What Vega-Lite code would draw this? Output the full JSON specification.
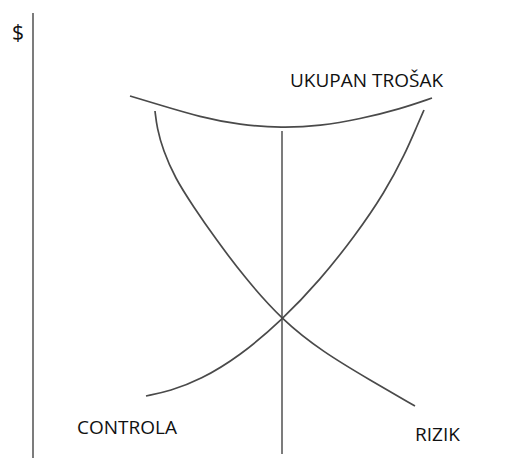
{
  "$schema": "https://vega.github.io/schema/vega-lite/v6.json",
  "width": 527,
  "height": 458,
  "autosize": {"type": "none"},
  "padding": 0,
  "background": "white",
  "config": {"view": {"stroke": null}},
  "datasets": {
    "curves": [
      {"series": "UKUPAN TROŠAK", "i": 0, "x": 130, "y": 362},
      {"series": "UKUPAN TROŠAK", "i": 1, "x": 160, "y": 353},
      {"series": "UKUPAN TROŠAK", "i": 2, "x": 200, "y": 341},
      {"series": "UKUPAN TROŠAK", "i": 3, "x": 240, "y": 333},
      {"series": "UKUPAN TROŠAK", "i": 4, "x": 282, "y": 330},
      {"series": "UKUPAN TROŠAK", "i": 5, "x": 320, "y": 332},
      {"series": "UKUPAN TROŠAK", "i": 6, "x": 360, "y": 339},
      {"series": "UKUPAN TROŠAK", "i": 7, "x": 400, "y": 349},
      {"series": "UKUPAN TROŠAK", "i": 8, "x": 432, "y": 360},
      {"series": "RIZIK", "i": 0, "x": 155, "y": 347},
      {"series": "RIZIK", "i": 1, "x": 157, "y": 330},
      {"series": "RIZIK", "i": 2, "x": 163, "y": 308},
      {"series": "RIZIK", "i": 3, "x": 175, "y": 280},
      {"series": "RIZIK", "i": 4, "x": 193, "y": 252},
      {"series": "RIZIK", "i": 5, "x": 215, "y": 220},
      {"series": "RIZIK", "i": 6, "x": 245, "y": 180},
      {"series": "RIZIK", "i": 7, "x": 282, "y": 138},
      {"series": "RIZIK", "i": 8, "x": 323, "y": 106},
      {"series": "RIZIK", "i": 9, "x": 370, "y": 78},
      {"series": "RIZIK", "i": 10, "x": 415, "y": 52},
      {"series": "CONTROLA", "i": 0, "x": 146, "y": 62},
      {"series": "CONTROLA", "i": 1, "x": 170, "y": 67},
      {"series": "CONTROLA", "i": 2, "x": 200, "y": 78},
      {"series": "CONTROLA", "i": 3, "x": 240, "y": 102},
      {"series": "CONTROLA", "i": 4, "x": 282, "y": 138},
      {"series": "CONTROLA", "i": 5, "x": 320, "y": 178},
      {"series": "CONTROLA", "i": 6, "x": 355, "y": 222},
      {"series": "CONTROLA", "i": 7, "x": 385, "y": 266},
      {"series": "CONTROLA", "i": 8, "x": 405, "y": 304},
      {"series": "CONTROLA", "i": 9, "x": 417, "y": 332},
      {"series": "CONTROLA", "i": 10, "x": 424, "y": 348}
    ],
    "rules": [
      {"name": "axis", "x": 33, "y": 445, "y2": 0},
      {"name": "optimum", "x": 282, "y": 327, "y2": 4}
    ],
    "labels": [
      {"label": "$", "x": 12, "y": 418, "size": "big"},
      {"label": "UKUPAN TROŠAK", "x": 290, "y": 371},
      {"label": "CONTROLA", "x": 77, "y": 24},
      {"label": "RIZIK", "x": 415, "y": 17}
    ]
  },
  "layer": [
    {
      "data": {"name": "rules"},
      "mark": {"type": "rule", "color": "#6e6e6e", "strokeWidth": 1.8},
      "encoding": {
        "x": {"field": "x", "type": "quantitative", "scale": {"domain": [0, 527], "nice": false, "zero": false}, "axis": null},
        "y": {"field": "y", "type": "quantitative", "scale": {"domain": [0, 458], "nice": false, "zero": false}, "axis": null},
        "y2": {"field": "y2"}
      }
    },
    {
      "data": {"name": "curves"},
      "mark": {"type": "line", "interpolate": "basis", "color": "#4a4a4a", "strokeWidth": 1.7},
      "encoding": {
        "x": {"field": "x", "type": "quantitative", "scale": {"domain": [0, 527], "nice": false, "zero": false}, "axis": null},
        "y": {"field": "y", "type": "quantitative", "scale": {"domain": [0, 458], "nice": false, "zero": false}, "axis": null},
        "detail": {"field": "series"},
        "order": {"field": "i", "type": "quantitative"}
      }
    },
    {
      "data": {"name": "labels"},
      "mark": {"type": "text", "align": "left", "baseline": "alphabetic", "font": "Open Sans", "fontSize": 19, "color": "#111111"},
      "encoding": {
        "x": {"field": "x", "type": "quantitative", "scale": {"domain": [0, 527], "nice": false, "zero": false}, "axis": null},
        "y": {"field": "y", "type": "quantitative", "scale": {"domain": [0, 458], "nice": false, "zero": false}, "axis": null},
        "text": {"field": "label"},
        "size": {"condition": {"test": "datum.size === 'big'", "value": 21}, "value": 19}
      }
    }
  ]
}
